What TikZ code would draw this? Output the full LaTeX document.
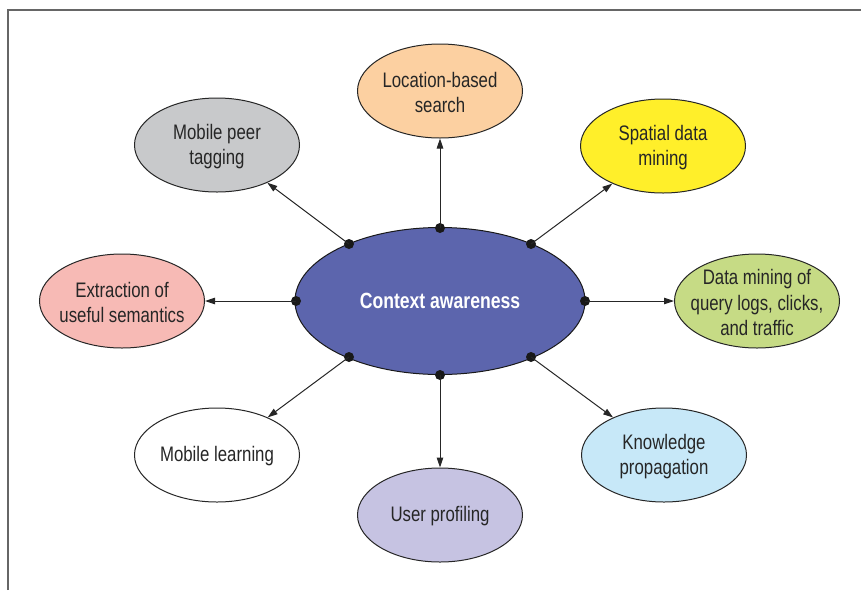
\documentclass[tikz,border=0pt]{standalone}
\usepackage{fontspec}
\setmainfont{Liberation Sans}[FakeStretch=0.8]
\usetikzlibrary{shapes.geometric,arrows.meta}
\definecolor{ctrc}{HTML}{5C65AD}
\definecolor{peach}{HTML}{FCD0A1}
\definecolor{grayb}{HTML}{C8C9CB}
\definecolor{yell}{HTML}{FFEF2A}
\definecolor{pinkb}{HTML}{F7BAB5}
\definecolor{greenb}{HTML}{C6DB85}
\definecolor{lav}{HTML}{C6C3E2}
\definecolor{lblue}{HTML}{C7E8F8}
\begin{document}
\begin{tikzpicture}[x=1pt,y=-1pt,
  bub/.style={ellipse,draw=black!85,line width=1pt,minimum width=165pt,minimum height=94pt,inner sep=0pt},
  txt/.style={align=center,font=\fontsize{21}{25.5}\selectfont,text=black!85,inner sep=0pt,yshift=-1.5pt},
  con/.style={line width=1pt,draw=black!85,-{Triangle[length=10pt,width=6.5pt]}},
  dot/.style={circle,fill=black!90,inner sep=0pt,minimum size=10pt}
]
\useasboundingbox (0,0) rectangle (861,590);
\draw[line width=1.3pt,draw=black!60] (8,590) -- (8,10) -- (861,10);

% outer bubbles
\node[bub,fill=peach]  (loc) at (440,91)  {};
\node[bub,fill=grayb]  (peer) at (217,145) {};
\node[bub,fill=yell]   (spat) at (663,146) {};
\node[bub,fill=pinkb]  (ext) at (122,301) {};
\node[bub,fill=greenb] (dmq) at (757,301) {};
\node[bub,fill=white]  (mlearn) at (217,455) {};
\node[bub,fill=lav]    (prof) at (440,515) {};
\node[bub,fill=lblue]  (know) at (664,455) {};

\node[txt] at (loc) {Location-based\\search};
\node[txt] at (peer) {Mobile peer\\tagging};
\node[txt] at (spat) {Spatial data\\mining};
\node[txt] at (ext) {Extraction of\\useful semantics};
\node[txt] at (dmq) {Data mining of\\query logs, clicks,\\and traffic};
\node[txt] at (mlearn) {Mobile learning};
\node[txt] at (prof) {User profiling};
\node[txt] at (know) {Knowledge\\propagation};

% centre
\node[ellipse,draw=black!90,line width=1pt,fill=ctrc,minimum width=290pt,minimum height=147pt,inner sep=0pt,
      font=\bfseries\fontsize{22}{26}\selectfont,text=white] (ctx) at (440,301) {Context awareness};

% dots
\node[dot] (dT)  at (440,228) {};
\node[dot] (dB)  at (440,375) {};
\node[dot] (dL)  at (296,301) {};
\node[dot] (dR)  at (585,301) {};
\node[dot] (dUL) at (349,244) {};
\node[dot] (dUR) at (531,244) {};
\node[dot] (dLL) at (349,357) {};
\node[dot] (dLR) at (531,357) {};

% connectors
\draw[con] (dT.center)  -- (loc);
\draw[con] (dUL.center) -- (peer);
\draw[con] (dUR.center) -- (spat);
\draw[con] (dL.center)  -- (ext);
\draw[con] (dR.center)  -- (dmq);
\draw[con] (dLL.center) -- (mlearn);
\draw[con] (dB.center)  -- (prof);
\draw[con] (dLR.center) -- (know);
\end{tikzpicture}
\end{document}
